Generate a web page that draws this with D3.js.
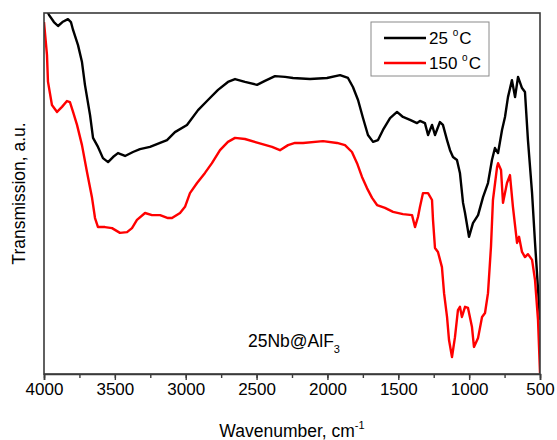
<!DOCTYPE html>
<html>
<head>
<meta charset="utf-8">
<script src="https://cdn.jsdelivr.net/npm/d3@7"></script>
<style>
  body { margin: 0; background: #fff; }
  text { font-family: "Liberation Sans", Arial, sans-serif; fill: #000; }
</style>
</head>
<body>
<div id="chart"></div>
<script>
let svgWidth = 557;
let svgHeight = 440;

let margin = { top: 13, right: 17, bottom: 66, left: 44 };

let width = svgWidth - margin.left - margin.right;
let height = svgHeight - margin.top - margin.bottom;

// wavenumber (cm-1) and transmission (a.u.)
let wn25 = [3990, 3965, 3930, 3901, 3870, 3831, 3810, 3795, 3760, 3732, 3711, 3675, 3654, 3619, 3584, 3548,
  3513, 3478, 3428, 3372, 3323, 3252, 3181, 3132, 3076, 2991, 2913, 2843, 2772, 2702, 2652, 2582, 2497,
  2441, 2370, 2299, 2243, 2123, 2003, 1911, 1855, 1820, 1784, 1749, 1714, 1678, 1643, 1608, 1558, 1509,
  1467, 1417, 1368, 1347, 1312, 1290, 1262, 1241, 1206, 1185, 1156, 1135, 1114, 1086, 1065, 1043, 1029,
  1001, 973, 937, 902, 867, 839, 818, 796, 768, 747, 726, 698, 676, 655, 627, 606, 585, 556, 535, 500];
let t25 = [101.5, 99.5, 97.5, 96.4, 97.5, 98.3, 97.5, 95.3, 91.1, 86.4, 80.1, 71.7, 65.4, 62.9, 59.8, 58.7,
  60.1, 61.2, 60.4, 61.5, 62.3, 62.9, 64.0, 64.8, 67.0, 69.0, 73.1, 75.9, 78.7, 80.9, 81.7, 80.9, 80.1,
  81.2, 82.5, 82.3, 82.0, 81.7, 82.0, 82.8, 82.0, 79.5, 75.9, 70.9, 66.2, 64.3, 64.8, 67.6, 70.9, 72.6,
  71.2, 70.4, 69.5, 70.1, 69.5, 66.2, 69.0, 66.2, 69.8, 69.0, 64.8, 62.0, 60.1, 59.3, 55.7, 47.4, 44.6,
  38.0, 41.8, 44.0, 49.0, 52.9, 59.3, 62.6, 61.2, 67.6, 71.2, 76.7, 81.4, 76.7, 82.3, 79.2, 78.1, 64.8, 50.1, 36.3, 15.0];

let wn150 = [4000, 3979, 3972, 3944, 3908, 3873, 3838, 3817, 3795, 3767, 3732, 3697, 3661, 3640, 3619, 3570,
  3520, 3464, 3414, 3379, 3344, 3287, 3238, 3181, 3125, 3097, 3040, 3005, 2970, 2920, 2864, 2815, 2758,
  2702, 2652, 2582, 2490, 2391, 2335, 2278, 2229, 2172, 2031, 1932, 1876, 1827, 1791, 1756, 1721, 1685,
  1650, 1594, 1537, 1467, 1403, 1382, 1361, 1347, 1326, 1290, 1262, 1255, 1241, 1220, 1192, 1177, 1156,
  1142, 1121, 1100, 1079, 1065, 1051, 1029, 1008, 980, 966, 937, 909, 888, 867, 846, 832, 803, 796, 775,
  761, 733, 712, 691, 662, 648, 627, 606, 585, 556, 535, 514, 500];
let t150 = [97.5, 88.4, 81.0, 74.5, 72.6, 74.0, 75.6, 75.3, 72.6, 69.0, 63.4, 56.0, 48.8, 43.2, 40.7, 40.7,
  40.4, 39.1, 39.3, 40.4, 42.7, 44.6, 44.0, 44.0, 43.2, 43.2, 44.6, 46.3, 50.1, 52.9, 55.7, 58.4, 62.0,
  64.3, 65.4, 65.1, 64.0, 62.9, 62.0, 63.4, 64.0, 64.0, 64.5, 64.0, 63.4, 61.5, 58.4, 54.6, 51.5, 48.8,
  46.8, 46.0, 44.9, 44.3, 44.0, 40.7, 43.5, 46.3, 50.1, 50.1, 48.2, 42.7, 34.9, 33.8, 29.6, 22.4, 15.8,
  9.4, 4.7, 10.2, 17.7, 18.6, 15.8, 18.6, 18.3, 13.0, 7.5, 10.0, 15.8, 16.9, 22.4, 35.2, 48.2, 57.3, 58.4, 56.5,
  47.4, 52.9, 55.1, 46.3, 36.3, 38.0, 33.8, 32.4, 33.2, 31.6, 26.0, 15.0, 0.3];

let seriesNames = ["25 °C", "150 °C"];
let seriesColors = ["#000000", "#ff0000"];

let xTicks = [4000, 3500, 3000, 2500, 2000, 1500, 1000, 500];
let xMinorTicks = d3.range(4000, 499, -250);

let svg = d3.select("#chart")
  .append("svg")
  .attr("width", svgWidth)
  .attr("height", svgHeight);

let chartGroup = svg.append("g")
  .attr("transform", `translate(${margin.left}, ${margin.top})`);

let xScale = d3.scaleLinear().domain([4000, 500]).range([0, width]);
let yScale = d3.scaleLinear().domain([0, 100]).range([height, 0]);

chartGroup.append("clipPath").attr("id", "plotclip")
  .append("rect").attr("x", 0).attr("y", 0).attr("width", width).attr("height", height);

let line = d3.line()
  .x(d => xScale(d[0]))
  .y(d => yScale(d[1]));

let curves = [d3.zip(wn25, t25), d3.zip(wn150, t150)];

chartGroup.append("g").attr("clip-path", "url(#plotclip)")
  .selectAll("path")
  .data(curves)
  .enter()
  .append("path")
  .attr("d", line)
  .attr("fill", "none")
  .attr("stroke", (d, i) => seriesColors[i])
  .attr("stroke-width", 2.4)
  .attr("stroke-linejoin", "round");

// frame
chartGroup.append("rect")
  .attr("width", width).attr("height", height)
  .attr("fill", "none").attr("stroke", "#3a3a3a").attr("stroke-width", 1.6);

// minor ticks
chartGroup.append("g")
  .attr("transform", `translate(0, ${height})`)
  .call(d3.axisBottom(xScale).tickValues(xMinorTicks).tickSize(4).tickFormat(""))
  .call(g => g.select(".domain").remove())
  .call(g => g.selectAll("line").attr("stroke", "#3a3a3a").attr("stroke-width", 1.4));

// major ticks + labels
chartGroup.append("g")
  .attr("transform", `translate(0, ${height})`)
  .call(d3.axisBottom(xScale).tickValues(xTicks).tickSize(6).tickPadding(3).tickFormat(d3.format("d")))
  .call(g => g.select(".domain").attr("stroke", "#3a3a3a").attr("stroke-width", 1.6))
  .call(g => g.selectAll("line").attr("stroke", "#3a3a3a").attr("stroke-width", 1.4))
  .call(g => g.selectAll("text").attr("font-size", "17px").attr("font-family", "Liberation Sans, Arial, sans-serif").attr("fill", "#000"));

// axis titles
let xTitle = svg.append("text")
  .attr("x", margin.left + width / 2)
  .attr("y", 437)
  .attr("text-anchor", "middle")
  .attr("font-size", "17.5px");
xTitle.append("tspan").text("Wavenumber, cm");
xTitle.append("tspan").attr("dy", -8).attr("font-size", "11px").text("-1");

svg.append("text")
  .attr("transform", `translate(25, ${margin.top + height / 2}) rotate(-90)`)
  .attr("text-anchor", "middle")
  .attr("font-size", "17.5px")
  .text("Transmission, a.u.");

// sample label
let sample = svg.append("text")
  .attr("x", 248)
  .attr("y", 347)
  .attr("font-size", "17.5px");
sample.append("tspan").text("25Nb@AlF");
sample.append("tspan").attr("dy", 6).attr("font-size", "11px").text("3");

// legend
let legend = svg.append("g").attr("transform", "translate(371, 22)");
legend.append("rect")
  .attr("width", 118).attr("height", 54)
  .attr("fill", "#fff").attr("stroke", "#8a8a8a").attr("stroke-width", 1);

let items = legend.selectAll("g.item")
  .data(seriesNames)
  .enter()
  .append("g")
  .attr("class", "item")
  .attr("transform", (d, i) => `translate(0, ${16 + i * 25})`);

items.append("line")
  .attr("x1", 13).attr("x2", 55)
  .attr("stroke", (d, i) => seriesColors[i])
  .attr("stroke-width", 2.4);

items.each(function(d) {
  let parts = d.split(" °");
  let t = d3.select(this).append("text")
    .attr("x", 58).attr("y", 6)
    .attr("font-size", "17px");
  t.append("tspan").text(parts[0] + " ");
  t.append("tspan").attr("dy", -8).attr("font-size", "10px").text("o");
  t.append("tspan").attr("dy", 8).attr("dx", 1).text(parts[1]);
});
</script>
</body>
</html>
